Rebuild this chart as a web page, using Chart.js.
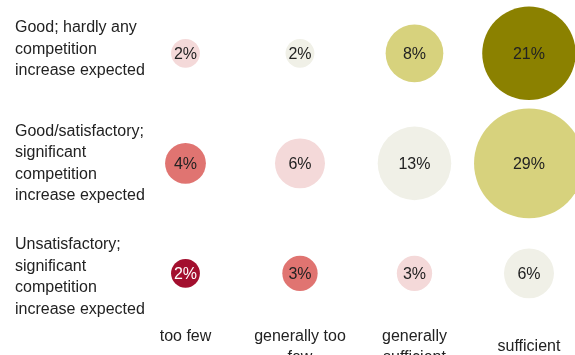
<!DOCTYPE html>
<html>
<head>
<meta charset="utf-8">
<script src="https://cdn.jsdelivr.net/npm/chart.js@4/dist/chart.umd.min.js"></script>
<style>
	html, body { margin: 0; padding: 0; background: #fff; }
	#wrap { width: 575px; height: 355px; position: relative; }
</style>
</head>
<body>
<div id="wrap"><canvas id="chart"></canvas></div>
<script>
// column categories (bottom), row categories (left)
const columns = [['too few', ''], ['generally too', 'few'], ['generally', 'sufficient'], ['sufficient']];
const rows = [
	['Good; hardly any', 'competition', 'increase expected'],
	['Good/satisfactory;', 'significant', 'competition', 'increase expected'],
	['Unsatisfactory;', 'significant', 'competition', 'increase expected']
];

// shares in percent, one array per row
const goodHardlyAny = [2, 2, 8, 21];
const goodSignificant = [4, 6, 13, 29];
const unsatSignificant = [2, 3, 3, 6];

const pink = '#f4d9d9';
const beige = '#f0f0e7';
const khaki = '#d7d27d';
const olive = '#8b8100';
const salmon = '#e07471';
const crimson = '#a30f2e';

const colorsRow1 = [pink, beige, khaki, olive];
const colorsRow2 = [salmon, pink, beige, khaki];
const colorsRow3 = [crimson, salmon, pink, beige];

const FONT = '"Liberation Sans", Arial, sans-serif';
const LINE = 21.5;

// bubble area follows the share
const radius = (v) => 10.2 * Math.sqrt(v);

const makeSet = (values, colors, rowIdx) => ({
	data: values.map((v, i) => ({ x: i, y: rows.length - 1 - rowIdx, r: radius(v), v: v })),
	backgroundColor: colors,
	borderWidth: 0,
	hoverBorderWidth: 0,
	hoverRadius: 0,
	clip: false
});

const labelsPlugin = {
	id: 'labels',
	afterDatasetsDraw(chart) {
		const ctx = chart.ctx;
		const xs = chart.scales.x;
		const ys = chart.scales.y;
		ctx.save();
		ctx.font = '16px ' + FONT;
		ctx.textBaseline = 'middle';

		// values inside bubbles
		ctx.textAlign = 'center';
		chart.data.datasets.forEach((ds, di) => {
			const meta = chart.getDatasetMeta(di);
			meta.data.forEach((el, i) => {
				const c = ds.backgroundColor[i];
				ctx.fillStyle = c === crimson ? '#fff' : '#222';
				ctx.fillText(ds.data[i].v + '%', el.x, el.y + 1);
			});
		});

		// row labels on the left, spread a little wider than the bubble rows
		ctx.textAlign = 'left';
		ctx.fillStyle = '#222';
		rows.forEach((lines, ri) => {
			const cy = ys.getPixelForValue(rows.length - 1 - ri) + (ri - 1) * 3.8;
			const top = cy - (lines.length - 1) * LINE / 2;
			lines.forEach((t, li) => ctx.fillText(t, 15, top + li * LINE));
		});

		// column labels at the bottom
		ctx.textAlign = 'center';
		columns.forEach((lines, ci) => {
			const cx = xs.getPixelForValue(ci);
			const top = 347 - (lines.length - 1) * LINE / 2;
			lines.forEach((t, li) => ctx.fillText(t, cx, top + li * LINE));
		});
		ctx.restore();
	}
};

new Chart(document.getElementById('chart'), {
	type: 'bubble',
	data: {
		datasets: [
			makeSet(goodHardlyAny, colorsRow1, 0),
			makeSet(goodSignificant, colorsRow2, 1),
			makeSet(unsatSignificant, colorsRow3, 2)
		]
	},
	options: {
		responsive: true,
		maintainAspectRatio: false,
		animation: false,
		events: [],
		layout: { padding: 0, autoPadding: false },
		plugins: { legend: { display: false }, tooltip: { enabled: false } },
		scales: {
			x: { type: 'linear', display: false, min: -1.62, max: 3.402 },
			y: { type: 'linear', display: false, min: -0.742, max: 2.485 }
		}
	},
	plugins: [labelsPlugin]
});
</script>
</body>
</html>
